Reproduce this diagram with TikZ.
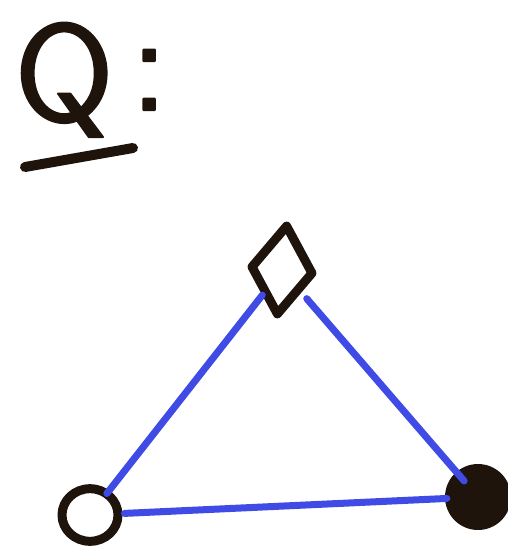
\documentclass[tikz,border=0pt]{standalone}
\usepackage{fontspec}
\usetikzlibrary{shapes.geometric}
\newfontfamily\qfont[FakeBold=1.6]{lmsans10-regular.otf}
\definecolor{ink}{RGB}{30,20,12}
\definecolor{penblue}{RGB}{64,74,228}
\begin{document}
\begin{tikzpicture}[x=1pt, y=-1pt, line join=round, line cap=round, ink/.style={draw=ink, line width=9pt}, edge/.style={draw=penblue, line width=7pt}]
			\useasboundingbox (0, 0) rectangle (508, 549);
			\node[anchor=base west, inner sep=0pt, text=ink, font=\fontsize{136}{136}\qfont] (q) at (14, 120) {Q\hspace{16pt}\raisebox{10pt}{:}};
			\draw[ink, line width=10pt] (25, 167) -- (133, 148);
			\node[ink, diamond, minimum width=64pt, minimum height=92pt, inner sep=0pt, rotate=-6] (top) at (282, 270) {};
			\node[ink, circle, minimum width=56pt, inner sep=0pt, yscale=.94] (left) at (90, 515) {};
			\node[circle, fill=ink, minimum width=66pt, inner sep=0pt] (right) at (478, 497) {};
			\draw[edge, shorten >=-4pt] (top) -- (left);
			\draw[edge, shorten <=8pt, shorten >=-12pt] (top) -- (right);
			\draw[edge, shorten <=2pt, shorten >=-2pt] (left) -- (right);
		\end{tikzpicture}
\end{document}
